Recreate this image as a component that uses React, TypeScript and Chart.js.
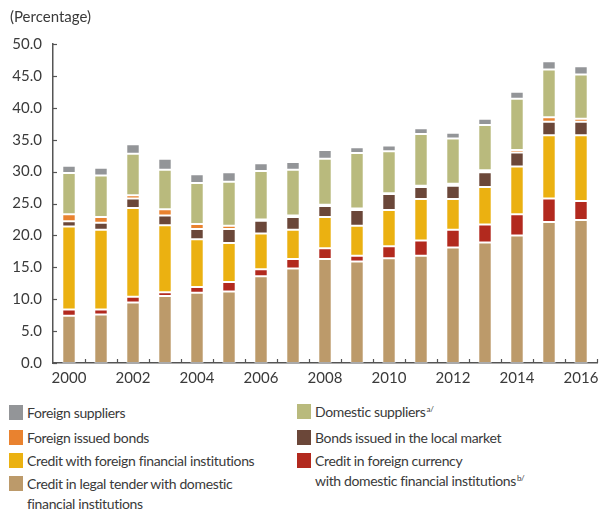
import React, { useEffect, useRef } from 'react';
import { Chart, registerables } from 'chart.js';

Chart.register(...registerables);

const years = ['2000', '2001', '2002', '2003', '2004', '2005', '2006', '2007', '2008', '2009', '2010', '2011', '2012', '2013', '2014', '2015', '2016'];

const creditLegalTender = [7.4, 7.6, 9.5, 10.5, 11.0, 11.2, 13.6, 14.8, 16.3, 15.9, 16.4, 16.8, 18.1, 18.9, 20.0, 22.1, 22.4];
const creditForeignCurrency = [1.0, 0.8, 0.9, 0.6, 0.9, 1.5, 1.1, 1.5, 1.7, 0.9, 1.9, 2.4, 2.8, 2.8, 3.3, 3.7, 3.0];
const creditForeignInstitutions = [13.0, 12.5, 13.9, 10.5, 7.5, 6.1, 5.6, 4.6, 4.9, 4.7, 5.7, 6.5, 4.8, 5.9, 7.5, 9.9, 10.3];
const bondsLocalMarket = [0.8, 1.1, 1.5, 1.5, 1.6, 2.2, 2.0, 2.0, 1.7, 2.5, 2.5, 1.9, 2.1, 2.3, 2.2, 2.1, 2.1];
const foreignIssuedBonds = [1.1, 0.9, 0.5, 1.0, 0.8, 0.5, 0.2, 0.2, 0.2, 0.2, 0.1, 0.2, 0.3, 0.3, 0.4, 0.7, 0.5];
const domesticSuppliers = [6.5, 6.5, 6.5, 6.2, 6.4, 6.9, 7.6, 7.2, 7.2, 8.7, 6.6, 8.1, 7.1, 7.1, 8.0, 7.5, 6.9];
const foreignSuppliers = [1.1, 1.2, 1.5, 1.7, 1.4, 1.5, 1.2, 1.2, 1.4, 0.9, 0.9, 0.9, 0.9, 1.0, 1.1, 1.3, 1.3];

const yMin = 0;
const yMax = 50;
const yStep = 5;

const COLORS = {
  tan: '#bc9a6a',
  red: '#b2291e',
  yellow: '#ebb111',
  brown: '#6b4739',
  orange: '#e9822f',
  green: '#b9ba7d',
  gray: '#939598',
};

const TEXT = '#3a3a3a';
const AXIS = '#555555';
const FONT = 'Lato, "Open Sans", sans-serif';

const inwardTicks = {
  id: 'inwardTicks',
  afterDraw(chart: any) {
    const { ctx } = chart;
    const xs = chart.scales.x;
    const ys = chart.scales.y;
    ctx.save();
    ctx.strokeStyle = AXIS;
    ctx.lineWidth = 1.2;
    ys.ticks.forEach((t: any) => {
      const py = Math.round(ys.getPixelForValue(t.value)) + 0.5;
      ctx.beginPath();
      ctx.moveTo(xs.left, py);
      ctx.lineTo(xs.left + 4, py);
      ctx.stroke();
    });
    const w = (xs.right - xs.left) / years.length;
    for (let k = 1; k <= years.length; k++) {
      const px = Math.round(xs.left + k * w) + 0.5;
      ctx.beginPath();
      ctx.moveTo(px, ys.bottom);
      ctx.lineTo(px, ys.bottom - 4);
      ctx.stroke();
    }
    ctx.restore();
  },
};

function ChartCanvas() {
  const ref = useRef<HTMLCanvasElement | null>(null);
  useEffect(() => {
    if (!ref.current) return;
    const mk = (label: string, data: number[], color: string) => ({
      label,
      data,
      backgroundColor: color,
      borderColor: 'rgba(255,255,255,0.5)',
      borderWidth: 1,
      borderSkipped: false,
      barPercentage: 0.42,
      categoryPercentage: 1,
    });
    const chart = new Chart(ref.current, {
      type: 'bar',
      data: {
        labels: years,
        datasets: [
          mk('Credit in legal tender with domestic financial institutions', creditLegalTender, COLORS.tan),
          mk('Credit in foreign currency with domestic financial institutions', creditForeignCurrency, COLORS.red),
          mk('Credit with foreign financial institutions', creditForeignInstitutions, COLORS.yellow),
          mk('Bonds issued in the local market', bondsLocalMarket, COLORS.brown),
          mk('Foreign issued bonds', foreignIssuedBonds, COLORS.orange),
          mk('Domestic suppliers', domesticSuppliers, COLORS.green),
          mk('Foreign suppliers', foreignSuppliers, COLORS.gray),
        ],
      },
      options: {
        animation: false,
        responsive: false,
        maintainAspectRatio: false,
        layout: { padding: { left: 0, right: 11, top: 44, bottom: 0 } },
        plugins: {
          legend: { display: false },
          tooltip: { enabled: false },
        },
        scales: {
          x: {
            stacked: true,
            grid: { display: false, drawTicks: false },
            border: { display: true, color: AXIS, width: 1.5 },
            ticks: {
              autoSkip: false,
              maxRotation: 0,
              padding: 6,
              color: TEXT,
              font: { family: FONT, size: 15 },
              callback: (_v: any, i: number) => (i % 2 === 0 ? years[i] : ''),
            },
            afterFit: (s: any) => {
              s.height = 27;
            },
          },
          y: {
            stacked: true,
            min: yMin,
            max: yMax,
            grid: { display: false, drawTicks: false },
            border: { display: true, color: AXIS, width: 1.5 },
            ticks: {
              stepSize: yStep,
              padding: 11,
              color: TEXT,
              font: { family: FONT, size: 15 },
              callback: (v: any) => Number(v).toFixed(1),
            },
            afterFit: (s: any) => {
              s.width = 53;
            },
          },
        },
      },
      plugins: [inwardTicks],
    } as any);
    return () => chart.destroy();
  }, []);
  return <canvas ref={ref} width={608} height={390} style={{ width: 608, height: 390, display: 'block' }} />;
}

type LegendItem = { color: string; lines: React.ReactNode[]; left: number; top: number };

const sup = (t: string) => (
  <sup style={{ fontSize: 8, verticalAlign: 'top', position: 'relative', top: -3, marginLeft: 1 }}>{t}</sup>
);

const legendItems: LegendItem[] = [
  { color: COLORS.gray, lines: ['Foreign suppliers'], left: 9, top: 403 },
  { color: COLORS.orange, lines: ['Foreign issued bonds'], left: 9, top: 428 },
  { color: COLORS.yellow, lines: ['Credit with foreign financial institutions'], left: 9, top: 451 },
  { color: COLORS.tan, lines: ['Credit in legal tender with domestic', 'financial institutions'], left: 9, top: 474 },
  { color: COLORS.green, lines: [<span key="a">Domestic suppliers{sup('a/')}</span>], left: 297, top: 402 },
  { color: COLORS.brown, lines: ['Bonds issued in the local market'], left: 297, top: 428 },
  { color: COLORS.red, lines: ['Credit in foreign currency', <span key="b">with domestic financial institutions{sup('b/')}</span>], left: 297, top: 451 },
];

export default function App() {
  return (
    <div style={{ position: 'absolute', left: 0, top: 0, width: 608, height: 512, background: '#fff', overflow: 'hidden', fontFamily: FONT, color: TEXT }}>
      <ChartCanvas />
      <div style={{ position: 'absolute', left: 10, top: 6, fontSize: 15, lineHeight: '20px' }}>(Percentage)</div>
      {legendItems.map((it, i) => (
        <div key={i} style={{ position: 'absolute', left: it.left, top: it.top, display: 'flex', alignItems: 'flex-start' }}>
          <div style={{ width: 14, height: 15, background: it.color, marginTop: 2, marginRight: 4, flex: 'none' }} />
          <div style={{ fontSize: 14, letterSpacing: '-0.35px', lineHeight: '20px', whiteSpace: 'nowrap' }}>
            {it.lines.map((l, j) => (
              <div key={j}>{l}</div>
            ))}
          </div>
        </div>
      ))}
    </div>
  );
}
